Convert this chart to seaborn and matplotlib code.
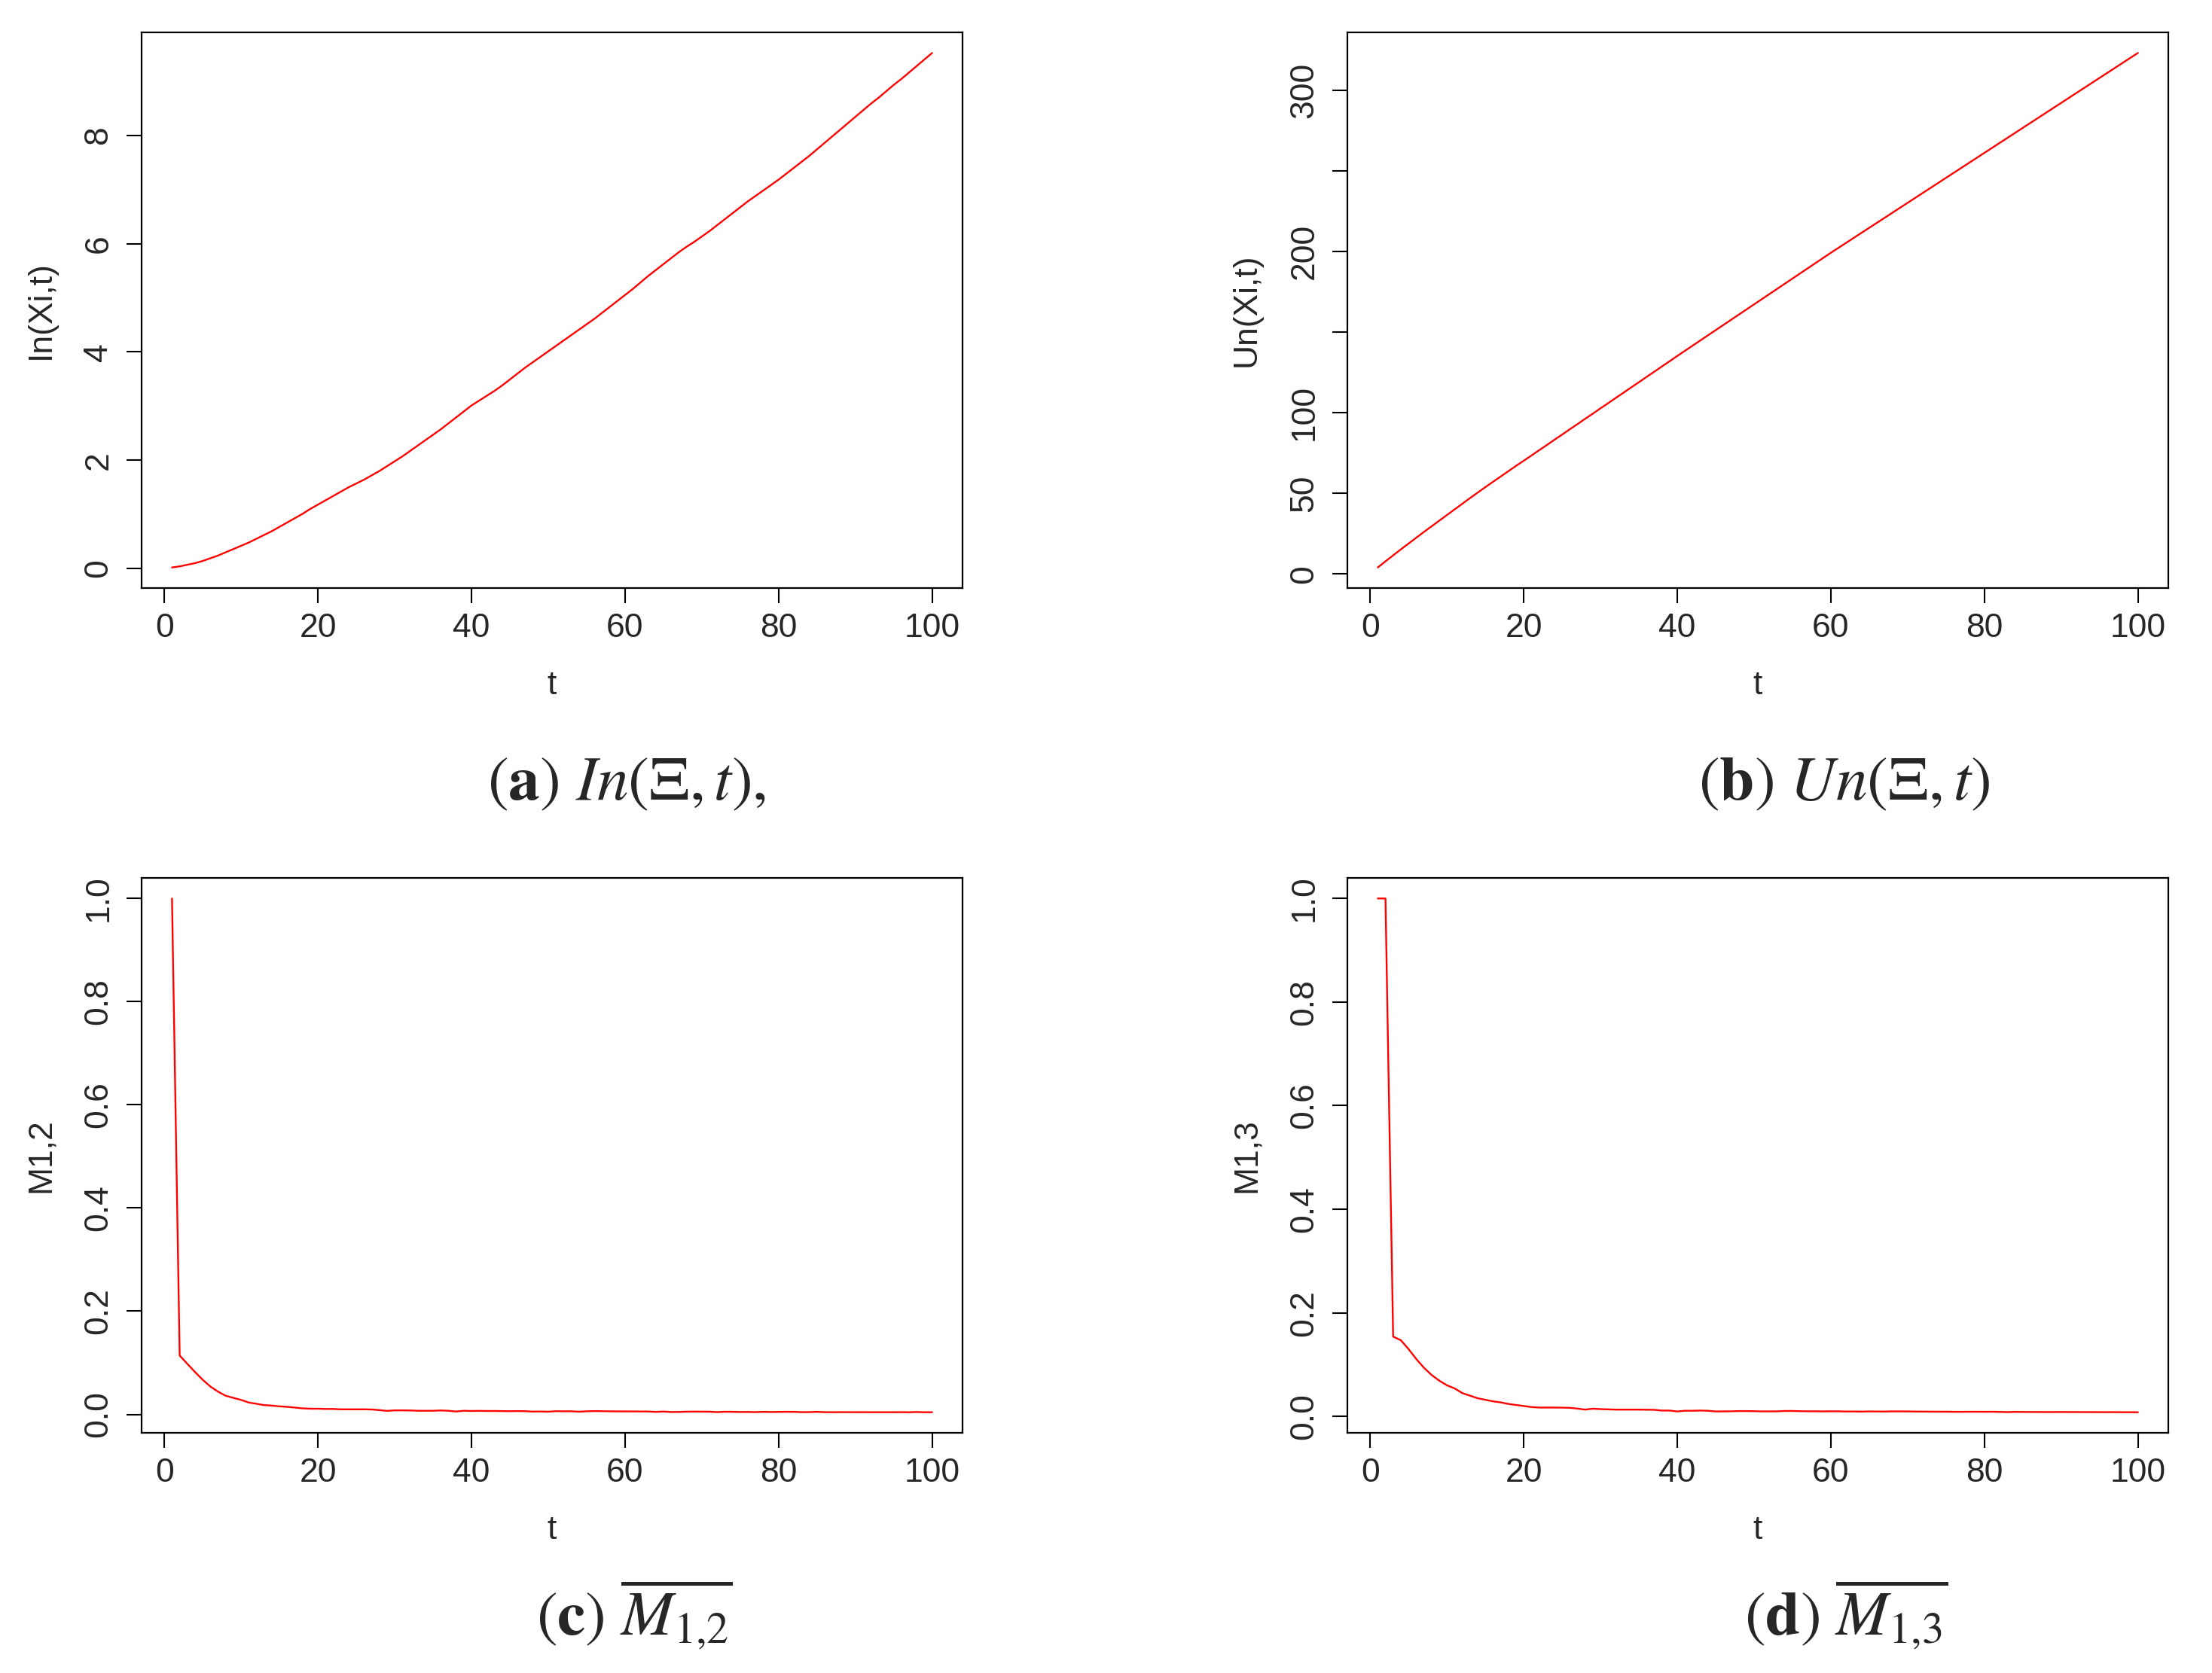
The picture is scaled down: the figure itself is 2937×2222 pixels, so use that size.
import numpy as np
import pandas as pd
import matplotlib
matplotlib.use("Agg")
import matplotlib.pyplot as plt
import seaborn as sns

# ---------------- data ----------------
t = list(range(1, 101))

in_xi = [0.02, 0.04, 0.07, 0.10, 0.14, 0.19, 0.24, 0.30, 0.36, 0.42,
         0.48, 0.55, 0.62, 0.69, 0.77, 0.85, 0.93, 1.01, 1.10, 1.18,
         1.26, 1.34, 1.42, 1.50, 1.57, 1.64, 1.72, 1.80, 1.89, 1.98,
         2.07, 2.17, 2.27, 2.37, 2.47, 2.57, 2.68, 2.79, 2.90, 3.01,
         3.10, 3.19, 3.28, 3.38, 3.49, 3.60, 3.71, 3.81, 3.91, 4.01,
         4.11, 4.21, 4.31, 4.41, 4.51, 4.61, 4.72, 4.83, 4.94, 5.05,
         5.16, 5.28, 5.40, 5.51, 5.62, 5.73, 5.84, 5.94, 6.03, 6.13,
         6.23, 6.34, 6.45, 6.56, 6.67, 6.78, 6.88, 6.98, 7.08, 7.18,
         7.29, 7.40, 7.51, 7.62, 7.74, 7.86, 7.98, 8.10, 8.22, 8.34,
         8.46, 8.58, 8.69, 8.81, 8.93, 9.04, 9.16, 9.28, 9.40, 9.52]

un_xi = [4.0, 7.8, 11.5, 15.2, 18.8, 22.4, 26.0, 29.5, 33.0, 36.5,
         40.0, 43.5, 47.0, 50.4, 53.8, 57.1, 60.4, 63.7, 67.0, 70.2,
         73.4, 76.7, 79.9, 83.2, 86.4, 89.7, 92.9, 96.2, 99.4, 102.7,
         105.9, 109.2, 112.4, 115.7, 118.9, 122.2, 125.4, 128.7, 131.9, 135.2,
         138.4, 141.6, 144.8, 148.0, 151.2, 154.4, 157.6, 160.8, 164.0, 167.2,
         170.4, 173.6, 176.8, 180.0, 183.2, 186.4, 189.6, 192.8, 196.0, 199.2,
         202.3, 205.4, 208.5, 211.6, 214.7, 217.8, 220.9, 224.0, 227.1, 230.2,
         233.3, 236.4, 239.5, 242.6, 245.7, 248.8, 251.9, 255.0, 258.1, 261.2,
         264.3, 267.4, 270.5, 273.6, 276.7, 279.8, 282.9, 286.0, 289.1, 292.2,
         295.3, 298.4, 301.5, 304.6, 307.7, 310.8, 313.9, 317.0, 320.1, 323.2]

m12 = [1.0, 0.114, 0.098, 0.082, 0.067, 0.054, 0.044, 0.036, 0.032, 0.028,
       0.023, 0.0205, 0.018, 0.017, 0.0156, 0.0146, 0.0132, 0.0117, 0.011, 0.011,
       0.0105, 0.0105, 0.0098, 0.0098, 0.0098, 0.0098, 0.0095, 0.0083, 0.0068, 0.0078,
       0.0078, 0.0076, 0.007, 0.007, 0.007, 0.0076, 0.007, 0.0056, 0.007, 0.0066,
       0.0068, 0.0066, 0.0066, 0.0064, 0.0062, 0.0064, 0.0062, 0.0054, 0.0056, 0.0052,
       0.0062, 0.006, 0.006, 0.0052, 0.006, 0.0064, 0.0062, 0.006, 0.0058, 0.0058,
       0.0057, 0.0056, 0.0056, 0.0048, 0.0055, 0.0046, 0.0047, 0.0052, 0.0054, 0.0053,
       0.0052, 0.0044, 0.0051, 0.0050, 0.0046, 0.0047, 0.0044, 0.0049, 0.0046, 0.0048,
       0.0050, 0.0049, 0.0043, 0.0044, 0.0049, 0.0043, 0.0042, 0.0043, 0.0043, 0.0042,
       0.0043, 0.0042, 0.0042, 0.0042, 0.0042, 0.0043, 0.0041, 0.0046, 0.0041, 0.0042]

m13 = [1.0, 1.0, 0.154, 0.147, 0.130, 0.111, 0.094, 0.080, 0.069, 0.060,
       0.054, 0.045, 0.040, 0.035, 0.032, 0.029, 0.027, 0.024, 0.022, 0.020,
       0.018, 0.017, 0.017, 0.017, 0.0168, 0.0165, 0.015, 0.013, 0.0148, 0.014,
       0.0135, 0.013, 0.013, 0.013, 0.013, 0.0128, 0.0126, 0.0112, 0.0112, 0.0095,
       0.0108, 0.0108, 0.0112, 0.0108, 0.0095, 0.0096, 0.0098, 0.0102, 0.0102, 0.0100,
       0.0096, 0.0096, 0.0097, 0.0104, 0.0104, 0.0100, 0.0098, 0.0098, 0.0096, 0.0098,
       0.0097, 0.0094, 0.0094, 0.0092, 0.0095, 0.0094, 0.0093, 0.0096, 0.0096, 0.0095,
       0.0093, 0.0092, 0.0091, 0.0090, 0.0090, 0.0088, 0.0087, 0.0089, 0.0089, 0.0088,
       0.0089, 0.0086, 0.0082, 0.0086, 0.0085, 0.0084, 0.0084, 0.0083, 0.0083, 0.0084,
       0.0083, 0.0083, 0.0082, 0.0082, 0.0081, 0.0081, 0.0081, 0.0080, 0.0080, 0.0079]

x_ticks = [0, 20, 40, 60, 80, 100]
x_ticklabels = ["0", "20", "40", "60", "80", "100"]

ylabels = ["In(Xi,t)", "Un(Xi,t)", "M1,2", "M1,3"]
y_ticks = [[0, 2, 4, 6, 8],
           [0, 50, 100, 150, 200, 250, 300],
           [0.0, 0.2, 0.4, 0.6, 0.8, 1.0],
           [0.0, 0.2, 0.4, 0.6, 0.8, 1.0]]
y_ticklabels = [["0", "2", "4", "6", "8"],
                ["0", "50", "100", "", "200", "", "300"],
                ["0.0", "0.2", "0.4", "0.6", "0.8", "1.0"],
                ["0.0", "0.2", "0.4", "0.6", "0.8", "1.0"]]
captions = [r"$(\mathbf{a})\ In(\Xi,t),$",
            r"$(\mathbf{b})\ Un(\Xi,t)$",
            r"$(\mathbf{c})\ \overline{M_{1{,}2}}$",
            r"$(\mathbf{d})\ \overline{M_{1{,}3}}$"]
series = [in_xi, un_xi, m12, m13]

# ---------------- style ----------------
sns.set_style("white")
plt.rcParams["font.family"] = ["Liberation Sans", "DejaVu Sans"]
plt.rcParams["mathtext.fontset"] = "stix"

W, H = 2937, 2222
DPI = 100
fig = plt.figure(figsize=(W / DPI, H / DPI), dpi=DPI)
fig.patch.set_facecolor("white")

# axes boxes in pixels: (left, top, right, bottom)
boxes = [(188, 43, 1278, 781), (1789, 43, 2879, 781),
         (188, 1166, 1278, 1903), (1789, 1166, 2879, 1903)]
cap_pos = [(647, 1062), (2255, 1062), (712, 2172), (2316, 2172)]

for i in range(4):
    l, tp, r, b = boxes[i]
    ax = fig.add_axes([l / W, (H - b) / H, (r - l) / W, (b - tp) / H])
    df = pd.DataFrame({"t": t, "v": series[i]})
    sns.lineplot(data=df, x="t", y="v", ax=ax, color="#ff0000",
                 linewidth=1.7, estimator=None)
    xmin, xmax = min(t), max(t)
    xr = xmax - xmin
    ax.set_xlim(xmin - 0.04 * xr, xmax + 0.04 * xr)
    ymin, ymax = min(series[i]), max(series[i])
    yr = ymax - ymin
    ax.set_ylim(ymin - 0.04 * yr, ymax + 0.04 * yr)

    ax.set_xticks(x_ticks)
    ax.set_xticklabels(x_ticklabels)
    ax.set_yticks(y_ticks[i])
    ax.set_yticklabels(y_ticklabels[i], rotation=90, va="center")

    ax.tick_params(axis="both", which="both", direction="out", length=14.4,
                   width=1.5, color="black", labelsize=32,
                   bottom=True, left=True, top=False, right=False)
    ax.tick_params(axis="x", pad=9)
    ax.tick_params(axis="y", pad=12)
    for sp in ax.spines.values():
        sp.set_visible(True)
        sp.set_color("black")
        sp.set_linewidth(1.6)

    ax.set_xlabel("t", fontsize=32)
    ax.set_ylabel(ylabels[i], fontsize=32)
    ax.xaxis.set_label_coords(0.5, -129 / (b - tp))
    ax.xaxis.label.set_verticalalignment("center")
    ax.yaxis.set_label_coords(-134 / (r - l), 0.5)
    ax.yaxis.label.set_verticalalignment("center")
    ax.grid(False)

    cx, cy = cap_pos[i]
    fig.text(cx / W, (H - cy) / H, captions[i], fontsize=60,
             ha="left", va="baseline")

fig.savefig("out.png", dpi=DPI, facecolor="white")
